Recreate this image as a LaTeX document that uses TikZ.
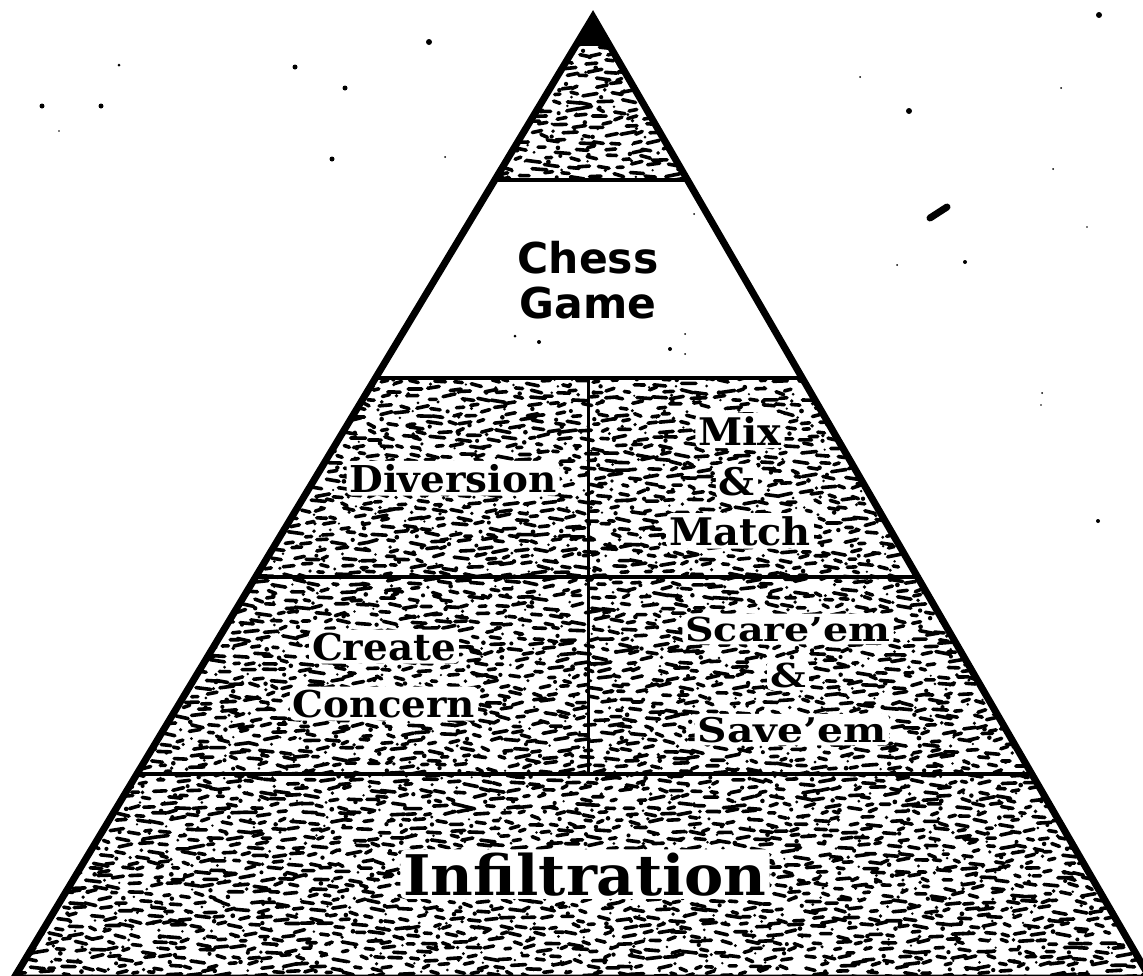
\documentclass[tikz,border=0pt]{standalone}
\usepackage{fontspec}
\usetikzlibrary{calc}
\newfontfamily\lblfont[FakeStretch=1.05]{DejaVu Serif}
\newfontfamily\lblwide[FakeStretch=1.2]{DejaVu Serif}
\newfontfamily\topfont{DejaVu Sans}

\begin{document}
\begin{tikzpicture}[x=1pt,y=-1pt,
  grain/.style={black,line width=3.6pt,line cap=round},
  speck/.style={black},
  edge/.style={black,line width=7pt,line join=miter},
  divider/.style={black,line width=3.5pt},
  halo/.style={anchor=base,fill=white,inner xsep=3pt,inner ysep=3pt,rounded corners=5pt},
  lbl/.style={halo,font=\lblfont\bfseries\fontsize{37}{40}\selectfont},
  lblw/.style={halo,font=\lblwide\bfseries\fontsize{33}{36}\selectfont},
  toplbl/.style={anchor=base,inner sep=0pt,font=\topfont\bfseries\fontsize{42.5}{45}\selectfont}]
  \useasboundingbox (0,0) rectangle (1143,975);

  % --- piramide
  \coordinate (apex) at (593,17);
  \coordinate (bl)   at (14,978);
  \coordinate (br)   at (1150,978);
  \foreach \n/\yy in {1/180,2/378,3/577,4/774} {
    \coordinate (l\n) at ($(apex)!{(\yy-17)/961}!(bl)$);
    \coordinate (r\n) at ($(apex)!{(\yy-17)/961}!(br)$);
  }
  \coordinate (vt) at (588,378);
  \coordinate (vb) at (588,774);

  % --- textura
  \begin{scope}
    \clip (apex) -- (br) -- (bl) -- cycle;
    \pgfmathsetseed{11}
    \foreach \y in {14,22,...,982} {
      \pgfmathsetmacro\xl{593-0.6025*(\y-17)-12}
      \pgfmathsetmacro\xr{593+0.58*(\y-17)+12}
      \pgfmathsetmacro\xs{\xl+18}
      \pgfmathsetmacro\xt{\xl+31}
      \draw[grain] \foreach \x in {\xl,\xs,...,\xr} {
        ({\x+6*rand},{\y+3*rand}) -- ++({5+10*rnd},{3*rand})
      };
      \fill[speck] \foreach \x in {\xl,\xt,...,\xr} {
        ({\x+12*rand},{\y+4+2*rand}) circle ({1.2+1.2*rnd})
      };
    }
    \fill (apex) -- ($(apex)!0.03!(br)$) -- ($(apex)!0.03!(bl)$) -- cycle;
  \end{scope}

  % --- franja blanca
  \fill[white] (l1) -- (r1) -- (r2) -- (l2) -- cycle;

  % --- contorno y divisiones
  \draw[edge] (apex) -- (br) -- (bl) -- cycle;
  \draw[divider,line width=4pt] (l1) -- (r1);
  \draw[divider,line width=4.5pt] (l2) -- (r2);
  \draw[divider] (l3) -- (r3);
  \draw[divider] (l4) -- (r4);
  \draw[divider,line width=3pt] (vt) -- (vb);

  % --- textos
  \node[toplbl] (chess) at (588,273) {Chess};
  \node[toplbl] (game)  at (588,318) {Game};
  \node[lbl] (diversion) at (453,492) {Diversion};
  \node[lbl,font=\lblfont\bfseries\fontsize{38}{40}\selectfont] (mix) at (740,445) {Mix};
  \node[lbl,font=\lblfont\bfseries\fontsize{38}{40}\selectfont] (mixamp) at (737,495) {\&};
  \node[lbl,font=\lblfont\bfseries\fontsize{38}{40}\selectfont] (match) at (740,545) {Match};
  \node[lbl] (create)  at (384,660) {Create};
  \node[lbl] (concern) at (384,717) {Concern};
  \node[lblw] (scare)    at (788,641) {Scare’em};
  \node[lblw] (scareamp) at (788,687) {\&};
  \node[lblw,font=\lblwide\bfseries\fontsize{34}{36}\selectfont] (save) at (792,742) {Save’em};
  \node[lbl,font=\lblfont\bfseries\fontsize{56}{60}\selectfont] (infil) at (585,895) {Infiltration};

  % --- motas
  \foreach \px/\py/\pr in {42/106/2.5,101/106/2.5,119/65/1.5,59/131/0.8,
      295/67/2.5,345/88/2.5,429/42/3,332/159/2.5,445/157/1,
      1099/15/3,860/77/1,909/111/3,1061/88/1,1053/169/1,965/262/2,
      897/265/1,1087/227/0.8,1098/521/2,1042/393/1,1041/405/0.8,
      515/336/1.5,539/342/2,670/349/2,685/334/1,685/354/1,694/214/1}
    \fill (\px,\py) circle (\pr);
  \draw[line width=7pt,line cap=round] (930,218) -- (947,207);
\end{tikzpicture}
\end{document}
